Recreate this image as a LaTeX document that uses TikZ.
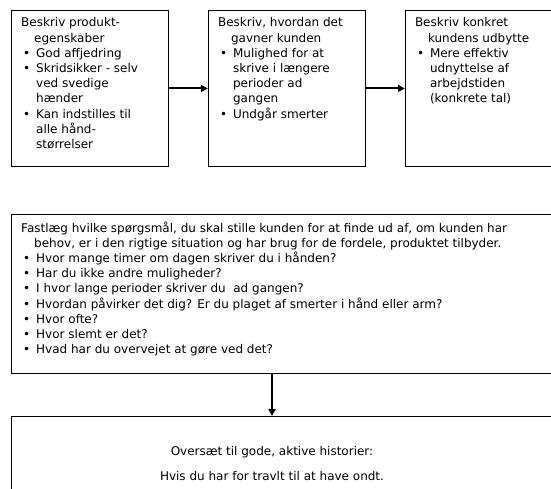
\documentclass[tikz,border=0pt]{standalone}
\usepackage{fontspec}
\setmainfont{DejaVu Sans}
\usetikzlibrary{positioning,arrows.meta,calc}

\newcommand{\bl}{\hspace*{2pt}\makebox[13pt][l]{\textbullet}}
\newcommand{\cont}{\hspace*{15pt}}
\newcommand{\hang}{\hspace*{13pt}}

\tikzset{
  box/.style={draw, line width=0.9pt, inner sep=0pt, anchor=north west},
  txt/.style={anchor=base west, inner sep=0pt, font=\fontsize{12}{15.2}\selectfont},
  flow/.style={-{Triangle[length=7pt,width=7pt]}, line width=2pt}
}

\begin{document}
\begin{tikzpicture}[x=1pt, y=-1pt]
  \useasboundingbox (0,0) rectangle (551,489);

  % top row
  \node[box, minimum width=157pt, minimum height=156pt] (b1) at (11,10) {};
  \node[box, minimum width=157pt, minimum height=156pt, right=39pt of b1, anchor=west] (b2) {};
  \node[box, minimum width=157pt, minimum height=156pt, right=39pt of b2, anchor=west] (b3) {};

  % lower boxes
  \node[box, minimum width=549pt, minimum height=159pt] (b4) at (11,214) {};
  \node[box, minimum width=549pt, minimum height=100pt] (b5) at (11,416) {};

  \node[txt] (t1) at ($(b1.north west)+(10,17)$) {\parbox[t]{150pt}{\raggedright
    Beskriv produkt-\\
    \hang egenskaber\\
    \bl God affjedring\\
    \bl Skridsikker - selv\\
    \cont ved svedige\\
    \cont hænder\\
    \bl Kan indstilles til\\
    \cont alle hånd-\\
    \cont størrelser}};

  \node[txt] (t2) at ($(b2.north west)+(10,17)$) {\parbox[t]{150pt}{\raggedright
    Beskriv, hvordan det\\
    \hang gavner kunden\\
    \bl Mulighed for at\\
    \cont skrive i længere\\
    \cont perioder ad\\
    \cont gangen\\
    \bl Undgår smerter}};

  \node[txt] (t3) at ($(b3.north west)+(10,17)$) {\parbox[t]{150pt}{\raggedright
    Beskriv konkret\\
    \hang kundens udbytte\\
    \bl Mere effektiv\\
    \cont udnyttelse af\\
    \cont arbejdstiden\\
    \cont (konkrete tal)}};

  \node[txt] (t4) at ($(b4.north west)+(10,18)$) {\parbox[t]{540pt}{\raggedright
    Fastlæg hvilke spørgsmål, du skal stille kunden for at finde ud af, om kunden har\\
    \hang behov, er i den rigtige situation og har brug for de fordele, produktet tilbyder.\\
    \bl Hvor mange timer om dagen skriver du i hånden?\\
    \bl Har du ikke andre muligheder?\\
    \bl I hvor lange perioder skriver du\ \ ad gangen?\\
    \bl Hvordan påvirker det dig? Er du plaget af smerter i hånd eller arm?\\
    \bl Hvor ofte?\\
    \bl Hvor slemt er det?\\
    \bl Hvad har du overvejet at gøre ved det?}};

  \node[txt, anchor=base] (hist) at (272,455) {\parbox[t]{400pt}{\centering
    Oversæt til gode, aktive historier:\\[10pt]
    Hvis du har for travlt til at have ondt.}};

  \draw[flow] (b1) -- (b2);
  \draw[flow] (b2) -- (b3);
  \draw[flow] (b4.south -| hist) -- (b5.north -| hist);
\end{tikzpicture}
\end{document}
